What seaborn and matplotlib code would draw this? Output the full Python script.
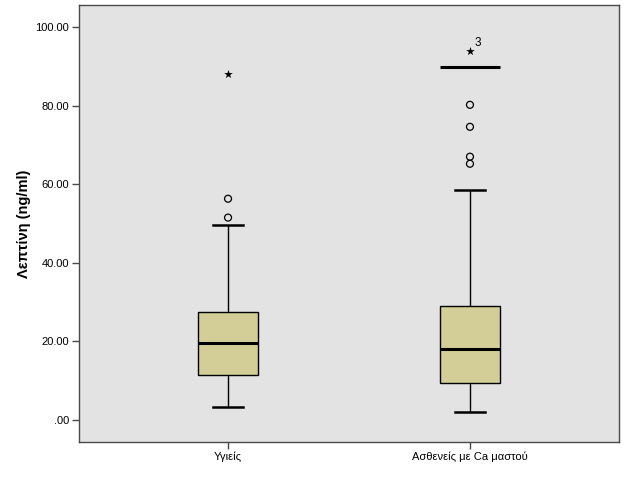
import matplotlib
matplotlib.use("Agg")
import matplotlib.pyplot as plt
import seaborn as sns
import pandas as pd
from matplotlib.ticker import FuncFormatter, MultipleLocator

# values
groups = ["Υγιείς", "Ασθενείς με Ca μαστού"]
lower_whisker = [3.3, 2.0]
q1 = [11.4, 9.4]
median = [19.5, 18.0]
q3 = [27.4, 29.0]
upper_whisker = [49.7, 58.4]
outliers = [[56.3, 51.5], [80.2, 74.6, 67.0, 65.2]]
extremes = [[88.1], [94.0]]
extreme_labels = [[""], ["3"]]
extra_line = [None, 89.8]

box_color = "#d3ce98"
bg_color = "#e3e3e3"
edge_dark = "#4a4a4a"

# five-number summary per group -> quartiles come out exactly with linear interpolation
summary = pd.DataFrame({
    "group": [g for g in groups for _ in range(5)],
    "value": [v for i in range(len(groups))
              for v in (lower_whisker[i], q1[i], median[i], q3[i], upper_whisker[i])],
})
outl = pd.DataFrame({
    "group": [groups[i] for i in range(len(groups)) for _ in outliers[i]],
    "value": [v for vals in outliers for v in vals],
})
ext = pd.DataFrame({
    "group": [groups[i] for i in range(len(groups)) for _ in extremes[i]],
    "value": [v for vals in extremes for v in vals],
})

plt.rcParams["font.family"] = ["Liberation Sans", "DejaVu Sans"]

fig = plt.figure(figsize=(6.26, 5.01), dpi=100)
ax = fig.add_axes([0.1262, 0.1178, 0.9888 - 0.1262, 0.990 - 0.1178])
ax.set_facecolor(bg_color)

box_width = 0.25
sns.boxplot(data=summary, x="group", y="value", order=groups, whis=(0, 100),
            width=box_width, color=box_color, saturation=1, linecolor="black",
            linewidth=1, medianprops=dict(linewidth=2.2),
            capprops=dict(linewidth=1.8), ax=ax)

sns.stripplot(data=outl, x="group", y="value", order=groups, jitter=False,
              marker="o", size=5, color="none", edgecolor="black",
              linewidth=0.9, ax=ax)
sns.stripplot(data=ext, x="group", y="value", order=groups, jitter=False,
              marker="*", size=6.5, color="black", linewidth=0, ax=ax)

for i, labels in enumerate(extreme_labels):
    for v, lab in zip(extremes[i], labels):
        if lab:
            ax.annotate(lab, (i, v), xytext=(3, 1), textcoords="offset points",
                        fontsize=8.5, ha="left", va="bottom")

for i, y in enumerate(extra_line):
    if y is not None:
        ax.hlines(y, i - box_width / 2, i + box_width / 2, color="black", linewidth=2.2)

ax.set_xlim(-0.616, 1.616)
ax.set_ylim(-5.6, 105.6)
ax.yaxis.set_major_locator(MultipleLocator(20))
ax.yaxis.set_major_formatter(FuncFormatter(lambda v, p: f"{v:.2f}".lstrip("0") if v >= 0 else f"{v:.2f}"))
ax.set_xlabel("")
ax.set_ylabel("Λεπτίνη (ng/ml)", fontsize=10.5, fontweight="bold", labelpad=3)
ax.tick_params(axis="both", labelsize=8, length=5, width=1, color=edge_dark, pad=2)

for s in ax.spines.values():
    s.set_color(edge_dark)
    s.set_linewidth(1)

fig.savefig("out.png", dpi=100, facecolor="white")
